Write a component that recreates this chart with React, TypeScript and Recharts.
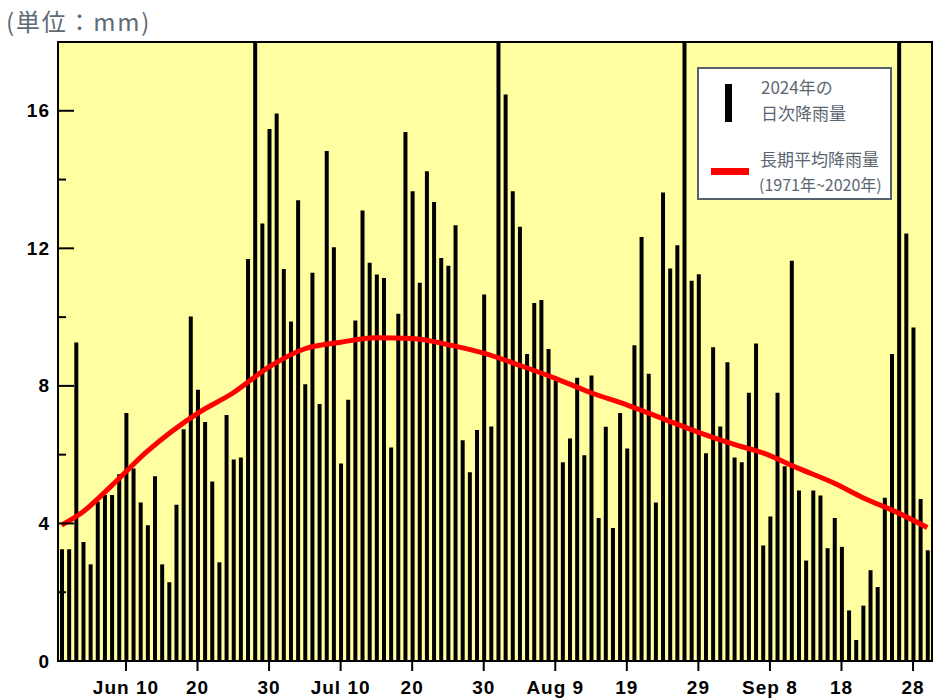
import {
  ComposedChart,
  Bar,
  Line,
  XAxis,
  YAxis,
  CartesianGrid,
  ReferenceArea,
  Legend,
} from "recharts";

// daily rainfall 2024 (mm); bars above 18 run off the top
const juneRain = [
  3.25, 3.25, 9.26, 3.46, 2.81, 4.63, 4.83, 4.83, 5.43, 7.21,
  5.6, 4.61, 3.95, 5.37, 2.81, 2.29, 4.54, 6.74, 10.02, 7.89,
  6.95, 5.22, 2.87, 7.15, 5.86, 5.92, 11.69, 19.5, 12.72, 15.47,
];
const julyRain = [
  15.92, 11.4, 9.87, 13.4, 8.05, 11.29, 7.47, 14.83, 12.03, 5.74,
  7.6, 9.9, 13.1, 11.58, 11.24, 11.14, 6.21, 10.1, 15.38, 13.66,
  11.0, 14.24, 13.35, 11.72, 11.49, 12.67, 6.42, 5.49, 6.72, 10.66, 6.82,
];
const augRain = [
  19.5, 16.47, 13.66, 12.63, 8.93, 10.41, 10.5, 9.07, 8.15, 5.78,
  6.47, 8.24, 5.98, 8.3, 4.16, 6.81, 3.87, 7.21, 6.18, 9.18,
  12.33, 8.35, 4.61, 13.62, 11.41, 12.09, 19.5, 11.06, 11.25, 6.04, 9.12,
];
const sepRain = [
  6.82, 8.69, 5.92, 5.78, 7.8, 9.23, 3.36, 4.2, 7.8, 5.66,
  11.64, 4.96, 2.92, 4.96, 4.81, 3.28, 4.16, 3.32, 1.47, 0.61,
  1.61, 2.64, 2.15, 4.75, 8.93, 19.5, 12.43, 9.7, 4.71, 3.22,
];

// long-term average (1971-2020), sampled along the red curve (day 0 = Jun 1)
const avgDays = [0, 3, 7, 12, 19, 24, 29, 34, 39, 44, 49, 54, 59, 64, 69, 74, 79, 84, 89, 94, 98, 103, 108, 112, 117, 121];
const avgValues = [
  3.95, 4.34, 5.1, 6.1, 7.2, 7.8, 8.55, 9.08, 9.27, 9.4, 9.38, 9.2, 8.95,
  8.6, 8.22, 7.8, 7.45, 7.05, 6.65, 6.3, 6.05, 5.6, 5.17, 4.75, 4.3, 3.88,
];

const xTicks = [9, 19, 29, 39, 49, 59, 69, 79, 89, 99, 109, 119];
const xTickLabels = ["Jun 10", "20", "30", "Jul 10", "20", "30", "Aug 9", "19", "29", "Sep 8", "18", "28"];
const yTicks = [0, 2, 4, 6, 8, 10, 12, 14, 16];

const X_MIN = -0.5;
const X_MAX = 121.65;
const Y_MAX = 18;
const PLOT_LEFT = 58;

const dailyRain = [...juneRain, ...julyRain, ...augRain, ...sepRain];
const data = dailyRain.map((rain, day) => {
  const i = avgDays.indexOf(day);
  return { day, rain, avg: i >= 0 ? avgValues[i] : null };
});

const axisFont = {
  fill: "#000",
  fontSize: 19,
  fontWeight: 700,
  fontFamily: "'Liberation Sans', Arial, sans-serif",
  letterSpacing: 1,
};

const legendText = "#5b6670";
const cjk = "'Noto Sans CJK JP', 'Noto Sans', sans-serif";

function YTick(props: any) {
  const { y, payload } = props;
  const v = payload.value as number;
  const major = v % 4 === 0;
  return (
    <g>
      <line
        x1={PLOT_LEFT}
        x2={PLOT_LEFT + (major ? 16 : 8)}
        y1={y}
        y2={y}
        stroke="#000"
        strokeWidth={2}
      />
      {major && (
        <text x={50} y={y} textAnchor="end" dominantBaseline="central" {...axisFont}>
          {v}
        </text>
      )}
    </g>
  );
}

function LegendBox() {
  return (
    <div
      style={{
        position: "relative",
        boxSizing: "border-box",
        width: 195,
        height: 133,
        background: "#fff",
        border: "2px solid #56616b",
        fontFamily: cjk,
        color: legendText,
      }}
    >
      <span style={{ position: "absolute", left: 26, top: 15, width: 7, height: 38, background: "#000" }} />
      <div style={{ position: "absolute", left: 62, top: 7, fontSize: 17, lineHeight: "22px" }}>2024年の</div>
      <div style={{ position: "absolute", left: 62, top: 33, fontSize: 17, lineHeight: "22px" }}>日次降雨量</div>
      <span style={{ position: "absolute", left: 12, top: 99, width: 38, height: 7, background: "#ff0000" }} />
      <div style={{ position: "absolute", left: 61, top: 79, fontSize: 17, lineHeight: "22px" }}>長期平均降雨量</div>
      <div style={{ position: "absolute", left: 60, top: 105, fontSize: 16, lineHeight: "20px" }}>(1971年~2020年)</div>
    </div>
  );
}

export default function App() {
  return (
    <div style={{ position: "absolute", left: 0, top: 0, width: 933, height: 698, background: "#fff" }}>
      <div
        style={{
          position: "absolute",
          left: 6,
          top: 6,
          fontSize: 24,
          lineHeight: "30px",
          letterSpacing: 1.8,
          color: "#5e6a74",
          fontFamily: cjk,
          zIndex: 2,
        }}
      >
        (単位：mm)
      </div>
      <ComposedChart
        width={933}
        height={698}
        data={data}
        margin={{ top: 42, right: 1, bottom: 0, left: 0 }}
      >
        <CartesianGrid horizontal={false} vertical={false} fill="#ffffa2" fillOpacity={1} />
        <XAxis
          dataKey="day"
          type="number"
          domain={[X_MIN, X_MAX]}
          allowDataOverflow
          ticks={xTicks}
          interval={0}
          tickFormatter={(v) => xTickLabels[xTicks.indexOf(v)] ?? ""}
          tick={axisFont}
          tickSize={10}
          tickMargin={10}
          tickLine={{ stroke: "#000", strokeWidth: 2 }}
          axisLine={{ stroke: "#000", strokeWidth: 2 }}
          height={37}
        />
        <YAxis
          type="number"
          domain={[0, Y_MAX]}
          allowDataOverflow
          ticks={yTicks}
          interval={0}
          width={PLOT_LEFT}
          tick={(p: any) => <YTick {...p} />}
          tickLine={false}
          axisLine={{ stroke: "#000", strokeWidth: 2 }}
        />
        <Bar dataKey="rain" fill="#000" barSize={4} isAnimationActive={false} />
        <Line
          dataKey="avg"
          type="monotone"
          stroke="#ff0000"
          strokeWidth={5}
          dot={false}
          connectNulls
          isAnimationActive={false}
        />
        <ReferenceArea
          x1={X_MIN}
          x2={X_MAX}
          y1={0}
          y2={Y_MAX}
          fill="none"
          fillOpacity={0}
          stroke="#000"
          strokeWidth={2}
        />
        <Legend
          layout="vertical"
          align="center"
          verticalAlign="middle"
          wrapperStyle={{ left: 697, top: 67, width: 195, height: 133 }}
          content={() => <LegendBox />}
        />
      </ComposedChart>
    </div>
  );
}
